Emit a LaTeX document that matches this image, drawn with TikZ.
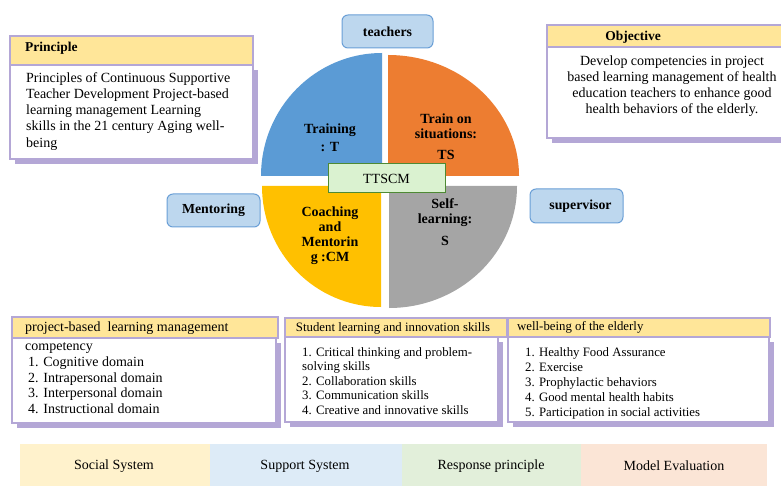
\documentclass[tikz,border=0pt]{standalone}
\usepackage{fontspec}
\setmainfont{Liberation Serif}
\usetikzlibrary{shadows}
\definecolor{qblue}{HTML}{5B9BD5}
\definecolor{qorange}{HTML}{ED7D31}
\definecolor{qyellow}{HTML}{FFC000}
\definecolor{qgray}{HTML}{A5A5A5}
\definecolor{rolefill}{HTML}{BDD7EE}
\definecolor{roledraw}{HTML}{6A9FD6}
\definecolor{tgfill}{HTML}{DAF2D0}
\definecolor{tgdraw}{HTML}{4E8A34}
\definecolor{hdrfill}{HTML}{FFE699}
\definecolor{boxpurple}{HTML}{B4A7D6}
\definecolor{barY}{HTML}{FFF2CC}
\definecolor{barB}{HTML}{DDEBF7}
\definecolor{barG}{HTML}{E2EFDA}
\definecolor{barO}{HTML}{FBE5D6}
\begin{document}
\begin{tikzpicture}[x=1pt,y=-1pt,
  qtext/.style={font=\bfseries\fontsize{14}{15}\selectfont,align=center,inner sep=0pt},
  rolebox/.style={rounded corners=6pt,fill=rolefill,draw=roledraw,line width=1pt,
    font=\bfseries\fontsize{13.8}{15}\selectfont,inner sep=0pt},
  hdrbox/.style={fill=hdrfill,draw=boxpurple,line width=1.5pt},
  bodybox/.style={fill=white,draw=boxpurple,line width=1.5pt,
    drop shadow={shadow xshift=5pt,shadow yshift=-5pt,fill=boxpurple,opacity=1}},
  bodytext/.style={inner sep=0pt,font=\fontsize{14}{15.75}\selectfont},
  smalltext/.style={inner sep=0pt,font=\fontsize{12.8}{14.6}\selectfont},
  bartext/.style={inner sep=0pt,font=\fontsize{14}{16}\selectfont}]
\useasboundingbox (0,0) rectangle (781,486);

% ---------- quadrants ----------
\fill[qblue] (261,176) arc[start angle=180,end angle=90,x radius=121pt,y radius=123pt] -- (382,176) -- cycle;
\fill[qorange] (388,55) arc[start angle=90,end angle=0,x radius=131pt,y radius=121pt] -- (388,176) -- cycle;
\fill[qyellow] (262,186) arc[start angle=180,end angle=270,x radius=119pt,y radius=121pt] -- (381,186) -- cycle;
\fill[qgray] (517,186) arc[start angle=0,end angle=-90,x radius=128pt,y radius=122pt] -- (389,186) -- cycle;

\node[qtext] (qt) at (330,138) {Training\\[3pt]: T};
\node[qtext] (qts) at (446,137) {Train on\\situations:\\[6pt]TS};
\node[qtext] (qcm) at (330,236) {Coaching\\and\\Mentorin\\g :CM};
\node[qtext] (qs) at (445,222) {Self-\\learning:\\[7pt]S};

\node[fill=tgfill,draw=tgdraw,line width=1pt,minimum width=117pt,minimum height=29pt,
  inner sep=0pt,font=\fontsize{14}{16}\selectfont] (ttscm) at (386.5,178.5) {TTSCM};

% ---------- role boxes ----------
\node[rolebox,minimum width=91pt,minimum height=33pt] (teachers) at (387.5,31.5) {teachers};
\node[rolebox,minimum width=93pt,minimum height=33pt] (mentoring) at (213.5,210.5) {Mentoring};
\node[rolebox,minimum width=93pt,minimum height=34pt] (supervisor) at (576.5,206) {\hspace{8pt}supervisor};

% ---------- Principle ----------
\draw[bodybox] (10,65) rectangle (253,159);
\draw[hdrbox] (10,36) rectangle (253,65);
\node[anchor=west,inner sep=0pt,font=\bfseries\fontsize{13.5}{15}\selectfont] (princh) at (25,48) {Principle};
\node[anchor=north west,align=left,bodytext,font=\fontsize{14}{16.25}\selectfont] (princb) at (26,72)
  {Principles of Continuous Supportive\\Teacher Development Project-based\\learning management Learning\\skills in the 21 century Aging well-\\being};

% ---------- Objective ----------
\draw[bodybox] (547,47) rectangle (790,138);
\draw[hdrbox] (547,25) rectangle (790,47);
\node[inner sep=0pt,font=\bfseries\fontsize{13.5}{15}\selectfont] (objh) at (633,37) {Objective};
\node[anchor=north,align=center,bodytext,font=\fontsize{14}{16}\selectfont] (objb) at (672,56)
  {Develop competencies in project\\based learning management of health\\education teachers to enhance good\\health behaviors of the elderly.};

% ---------- bottom boxes ----------
\draw[bodybox] (12,338) rectangle (276,423);
\draw[hdrbox] (12,317) rectangle (278,338);
\node[anchor=west,bodytext] (b1h) at (25,328) {project-based\ \ learning management};
\node[anchor=north west,align=left,bodytext] (b1b) at (25,342.5)
  {competency\\\hspace{3pt}1. Cognitive domain\\\hspace{3pt}2. Intrapersonal domain\\\hspace{3pt}3. Interpersonal domain\\\hspace{3pt}4. Instructional domain};

\draw[bodybox] (285,337) rectangle (498,422);
\draw[hdrbox] (285,318) rectangle (507,337);
\node[smalltext] (b2h) at (393,328) {Student learning and innovation skills};
\node[anchor=north west,align=left,smalltext] (b2b) at (302,347)
  {1. Critical thinking and problem-\\solving skills\\2. Collaboration skills\\3. Communication skills\\4. Creative and innovative skills};

\draw[bodybox] (508,337) rectangle (769,422);
\draw[hdrbox] (508,318) rectangle (770,337);
\node[anchor=west,smalltext] (b3h) at (517,327) {well-being of the elderly};
\node[anchor=north west,align=left,smalltext,font=\fontsize{12.8}{15}\selectfont] (b3b) at (525,347)
  {1. Healthy Food Assurance\\2. Exercise\\3. Prophylactic behaviors\\4. Good mental health habits\\5. Participation in social activities};

% ---------- bottom bar ----------
\fill[barY] (20,444) rectangle (210,486);
\fill[barB] (210,444) rectangle (402,486);
\fill[barG] (402,444) rectangle (581,486);
\fill[barO] (581,444) rectangle (767,486);
\node[bartext] (social) at (114,466) {Social System};
\node[bartext] (support) at (305,466) {Support System};
\node[bartext] (response) at (491,466) {Response principle};
\node[bartext] (evaluation) at (674,466) {Model Evaluation};
\end{tikzpicture}
\end{document}
